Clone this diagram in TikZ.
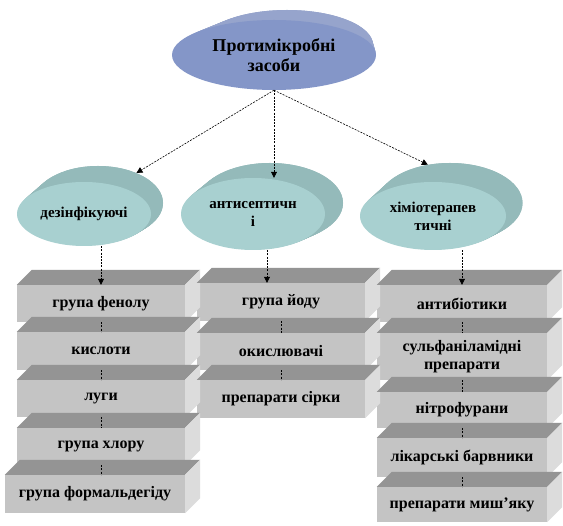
\documentclass[tikz,border=0pt]{standalone}
\usepackage{fontspec}
\setmainfont{Liberation Serif}
\usetikzlibrary{arrows.meta, shapes.geometric, positioning}
\definecolor{TopBlue}{RGB}{132,150,200}
\definecolor{TopBlueBack}{RGB}{150,164,204}
\definecolor{Teal}{RGB}{168,208,208}
\definecolor{TealBack}{RGB}{148,186,186}
\definecolor{BoxFront}{RGB}{196,196,196}
\definecolor{BoxTop}{RGB}{148,148,148}
\definecolor{BoxSide}{RGB}{220,220,220}

\begin{document}
\begin{tikzpicture}[x=1pt, y=-1pt,
	oval/.style={ellipse, inner sep=0pt, align=center, font=\bfseries\fontsize{15}{18}\selectfont},
	slab/.style={rectangle, fill=BoxFront, inner sep=0pt, minimum width=168pt, minimum height=37pt, align=center, font=\bfseries\fontsize{16}{18}\selectfont},
	link/.style={line width=0.6pt, dash pattern=on 2pt off 1.2pt, -{Triangle[length=6pt, width=6pt]}},
	joint/.style={line width=0.6pt, dash pattern=on 2pt off 1.2pt}]
	\path[use as bounding box, fill=white] (0,0) rectangle (563,526);
	% back faces of the ellipses
	\node[oval, fill=TopBlueBack, minimum width=172pt, minimum height=70pt] (topback) at (287,45) {};
	\node[oval, fill=TealBack, minimum width=130pt, minimum height=74pt] (dezback) at (98,203) {};
	\node[oval, fill=TealBack, minimum width=146pt, minimum height=80pt] (antiback) at (270,203) {};
	\node[oval, fill=TealBack, minimum width=145pt, minimum height=80pt] (chemback) at (450,203) {};
	% depth of the ellipses
	\foreach \bx/\by/\brx/\bry/\fx/\fy/\frx/\fry/\c in {287/45/86/35/274/55/102/35/TopBlueBack,
		98/203/65/37/84/214/67/32/TealBack, 270/203/73/40/253/214/72/36/TealBack,
		450/203/72.5/40/433/216/73/34/TealBack}
		\foreach \t in {0,0.1,...,1}
			\fill[\c] ({\bx+\t*(\fx-\bx)},{\by+\t*(\fy-\by)}) ellipse ({\brx+\t*(\frx-\brx)} and {\bry+\t*(\fry-\bry)});
	% front faces
	\node[oval, fill=TopBlue, minimum width=204pt, minimum height=70pt, font=\bfseries\fontsize{18}{20}\selectfont] (top) at (274,55) {Протимікробні\\засоби};
	\node[oval, fill=Teal, minimum width=134pt, minimum height=64pt] (dez) at (84,214) {дезінфікуючі};
	\node[oval, fill=Teal, minimum width=144pt, minimum height=72pt] (anti) at (253,214) {антисептичн\\і};
	\node[oval, fill=Teal, minimum width=146pt, minimum height=68pt] (chem) at (433,216) {хіміотерапев\\тичні};
	% boxes
	\node[slab] (L1) at (101,303.5) {група фенолу};
	\node[slab, minimum height=38pt] (L2) at (101,351) {кислоти};
	\node[slab] (L3) at (101,398.5) {луги};
	\node[slab] (L4) at (101,446.5) {група хлору};
	\node[slab, minimum width=180pt, minimum height=38pt] (L5) at (95,494) {група формальдегіду};
	\node[slab, minimum height=38pt] (M1) at (281,302) {група йоду};
	\node[slab] (M2) at (281,351.5) {окислювачі};
	\node[slab, minimum height=38pt] (M3) at (281,399) {препарати сірки};
	\node[slab, minimum width=170pt] (R1) at (462,303.5) {антибіотики};
	\node[slab, minimum width=170pt, minimum height=47pt] (R2) at (462,356.5) {сульфаніламідні\\препарати};
	\node[slab, minimum width=170pt, minimum height=36pt] (R3) at (462,410) {нітрофурани};
	\node[slab, minimum width=170pt, minimum height=39pt] (R4) at (462,457.5) {лікарські барвники};
	\node[slab, minimum width=170pt, minimum height=35pt] (R5) at (462,504.5) {препарати миш’яку};
	\foreach \b in {L1,L2,L3,L4,L5,M1,M2,M3,R1,R2,R3,R4,R5} {
		\fill[BoxTop] (\b.north west) -- ++(15pt,15pt) -- ([shift={(15pt,15pt)}]\b.north east) -- (\b.north east) -- cycle;
		\fill[BoxSide] (\b.north east) -- ++(15pt,15pt) -- ([shift={(15pt,15pt)}]\b.south east) -- (\b.south east) -- cycle;
	}
	% connectors
	\draw[link] (top.south) -- (dezback.38);
	\draw[link] (top.south) -- (top.south |- anti.north);
	\draw[link] (top.south) -- (chemback.120);
	\draw[link] (L1.north |- dez.south) -- (L1.north);
	\draw[link] ([xshift=-14pt]M1.north |- anti.south) -- ([xshift=-14pt]M1.north);
	\draw[link] (R1.north |- chem.south) -- (R1.north);
	\foreach \a/\b in {L1/L2, L2/L3, L3/L4, L4/L5, M1/M2, M2/M3, R1/R2, R2/R3, R3/R4, R4/R5}
		\draw[joint] (\a.south) -- (\a.south |- \b.north);
\end{tikzpicture}
\end{document}
